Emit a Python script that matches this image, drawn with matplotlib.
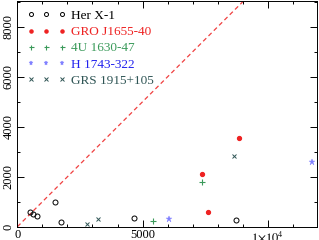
import numpy as np
import matplotlib
matplotlib.use("Agg")
import matplotlib.pyplot as plt
from matplotlib.ticker import MultipleLocator, FixedLocator, FuncFormatter

# data
her_x = [507, 640, 787, 1506, 1745, 4673, 8733]
her_y = [575, 508, 428, 975, 200, 336, 267]

gro_x = [8853, 7376, 7616]
gro_y = [3547, 2093, 575]

u4_x = [7390, 5407]
u4_y = [1788, 228]

h17_x = [6058, 11770]
h17_y = [296, 2600]

grs_x = [2771, 3235, 8654]
grs_y = [120, 296, 2828]

line_x = [0, 9000]
line_y = [0, 9000]

xticks = [0, 5000, 10000]
yticks = [0, 2000, 4000, 6000, 8000]

plt.rcParams['font.family'] = ['Liberation Serif', 'DejaVu Serif']
plt.rcParams['mathtext.fontset'] = 'stix'

fig = plt.figure(figsize=(3.19, 2.40), dpi=100)
ax = fig.add_axes([0.0545, 0.0554, 0.9392, 0.942])

ax.plot(line_x, line_y, color="#f04040", ls=(0, (3.5, 2.5)), lw=0.9)

ax.plot(her_x, her_y, 'o', mfc='none', mec='black', ms=3.6, mew=0.7, label="Her X-1")
ax.plot(gro_x, gro_y, 'o', color="#ee2222", ms=2.8, label="GRO J1655-40")
ax.plot(u4_x, u4_y, '+', color="#3a9a5a", ms=4.5, mew=0.8, label="4U 1630-47")
ax.plot(h17_x, h17_y, '*', color="#8080ff", ms=4.5, mew=0.3, label="H 1743-322")
ax.plot(grs_x, grs_y, 'x', color="#2f5555", ms=3.2, mew=0.7, label="GRS 1915+105")

ax.set_xlim(0, 11970)
ax.set_ylim(0, 9050)

ax.xaxis.set_major_locator(FixedLocator(xticks))
ax.xaxis.set_minor_locator(MultipleLocator(1000))
ax.yaxis.set_major_locator(FixedLocator(yticks))
ax.yaxis.set_minor_locator(MultipleLocator(1000))

def xfmt(v, pos):
    if v == 10000:
        return r"$1{\times}10^4$"
    return "%d" % v

ax.xaxis.set_major_formatter(FuncFormatter(xfmt))
ax.tick_params(which='both', direction='in', top=True, right=True, labelsize=9, pad=2)
ax.tick_params(which='major', length=5, width=0.7)
ax.tick_params(which='minor', length=2.5, width=0.7)
for lab in ax.get_yticklabels():
    lab.set_rotation(90)
    lab.set_va('center')
for s in ax.spines.values():
    s.set_linewidth(0.7)

leg = ax.legend(loc='upper left', numpoints=3, frameon=False, fontsize=9.5,
                markerscale=0.8, handlelength=3.0, handletextpad=0.4,
                labelspacing=0.3, borderaxespad=0.3)
text_colors = ["black", "#ee2222", "#3a9a5a", "#2222ee", "#2f5555"]
for t, c in zip(leg.get_texts(), text_colors):
    t.set_color(c)

fig.savefig("out.png", dpi=100)
